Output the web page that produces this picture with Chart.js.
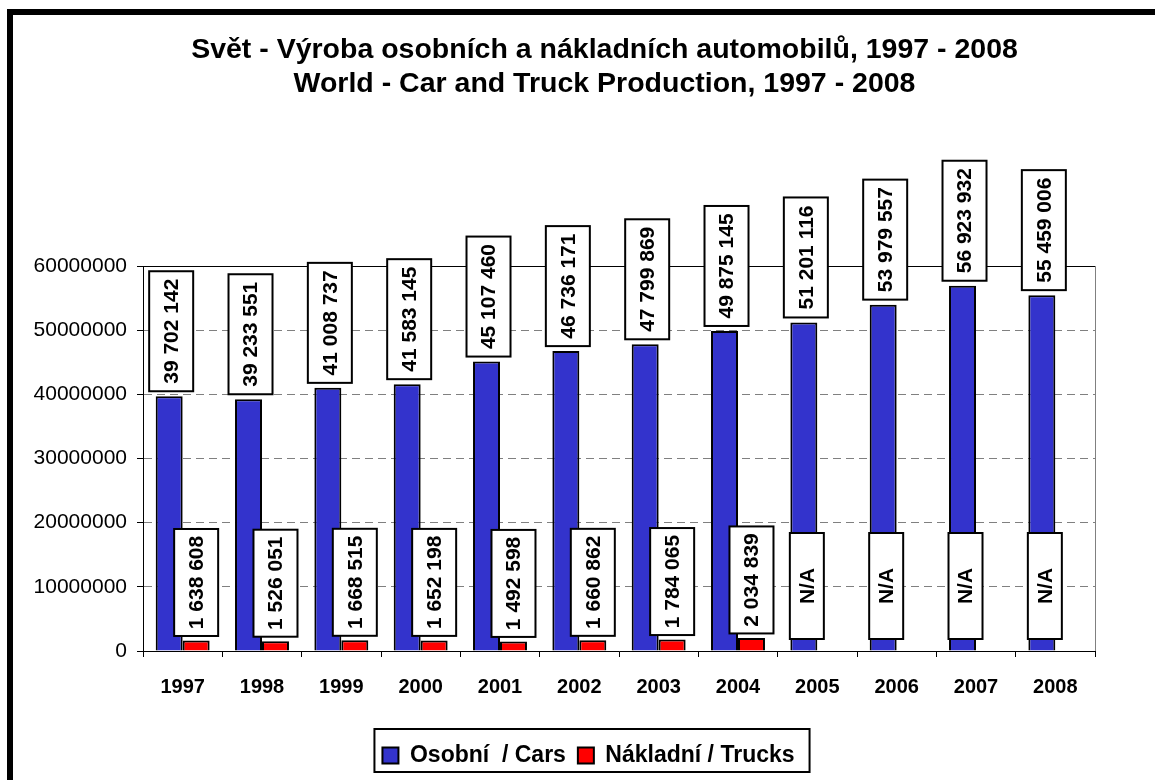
<!DOCTYPE html>
<html>
<head>
<meta charset="utf-8">
<title>Svět - Výroba osobních a nákladních automobilů</title>
<script src="https://cdn.jsdelivr.net/npm/chart.js@4.4.0/dist/chart.umd.min.js"></script>
<style>
  html, body { margin: 0; padding: 0; background: #fff; overflow: hidden; }
  #wrap { width: 1155px; height: 780px; }
</style>
</head>
<body>
<div id="wrap"><canvas id="chart" width="1155" height="780"></canvas></div>
<script>
// production by year
const years = ['1997', '1998', '1999', '2000', '2001', '2002', '2003', '2004', '2005', '2006', '2007', '2008'];
const carsProduced = [39702142, 39233551, 41008737, 41583145, 45107460, 46736171, 47799869, 49875145, 51201116, 53979557, 56923932, 55459006];
const trucksProduced = [1638608, 1526051, 1668515, 1652198, 1492598, 1660862, 1784065, 2034839, null, null, null, null];
const yTicks = [0, 10000000, 20000000, 30000000, 40000000, 50000000, 60000000];

const titleLines = ['Svět - Výroba osobních a nákladních automobilů, 1997 - 2008', 'World - Car and Truck Production, 1997 - 2008'];
const seriesNames = ['Osobní  / Cars', 'Nákladní / Trucks'];

const FONT = '"Liberation Sans", Arial, sans-serif';
Chart.defaults.font.family = FONT;
Chart.defaults.color = '#000';

// 39702142 -> "39 702 142"
function spaced(v) {
  return String(v).replace(/\B(?=(\d{3})+(?!\d))/g, ' ');
}

// white box with a black frame and text running bottom-to-top
function drawTag(ctx, cx, bottom, w, h, text) {
  ctx.save();
  ctx.fillStyle = '#fff';
  ctx.strokeStyle = '#000';
  ctx.lineWidth = 2;
  ctx.fillRect(cx - w / 2, bottom - h, w, h);
  ctx.strokeRect(cx - w / 2, bottom - h, w, h);
  ctx.translate(cx, bottom - h / 2);
  ctx.rotate(-Math.PI / 2);
  ctx.fillStyle = '#000';
  ctx.font = 'bold 21px ' + FONT;
  ctx.textAlign = 'center';
  ctx.textBaseline = 'middle';
  ctx.fillText(text, 0, 1);
  ctx.restore();
}

const framePlugin = {
  id: 'frame',
  beforeDraw(chart) {
    const ctx = chart.ctx;
    ctx.save();
    ctx.fillStyle = '#fff';
    ctx.fillRect(0, 0, chart.width, chart.height);
    ctx.strokeStyle = '#000';
    ctx.lineWidth = 6;
    ctx.strokeRect(10, 12, chart.width + 40, chart.height + 40);
    ctx.restore();
  },
  afterLayout(chart) {
    // title and legend sit right of the canvas centre
    const tb = chart.titleBlock;
    tb.left += 57;
    tb.right += 57;
    const lg = chart.legend;
    lg.left += 41;
    lg.right += 41;
  },
  beforeDatasetsDraw(chart) {
    const {ctx, chartArea: a} = chart;
    ctx.save();
    ctx.lineWidth = 1;
    ctx.strokeStyle = '#808080';
    ctx.beginPath();
    ctx.moveTo(a.right + 0.5, a.top);
    ctx.lineTo(a.right + 0.5, a.bottom);
    ctx.stroke();
    ctx.strokeStyle = '#000';
    ctx.beginPath();
    ctx.moveTo(a.left, a.top + 0.5);
    ctx.lineTo(a.right, a.top + 0.5);
    ctx.stroke();
    ctx.restore();
  },
  afterDatasetsDraw(chart) {
    const ctx = chart.ctx;
    const yScale = chart.scales.y;
    const cars = chart.getDatasetMeta(0).data;
    const trucks = chart.getDatasetMeta(1).data;
    cars.forEach((bar, i) => {
      drawTag(ctx, bar.x + 2, bar.y - 5, 44, 120, spaced(carsProduced[i]));
    });
    trucks.forEach((bar, i) => {
      if (trucksProduced[i] === null) {
        drawTag(ctx, cars[i].x + 3, yScale.getPixelForValue(0) - 12, 34, 106, 'N/A');
      } else {
        drawTag(ctx, bar.x, bar.y - 4.5, 44, 107, spaced(trucksProduced[i]));
      }
    });
  },
  afterDraw(chart) {
    const hb = chart.legend.legendHitBoxes;
    if (!hb || !hb.length) return;
    const last = hb[hb.length - 1];
    const ctx = chart.ctx;
    const left = hb[0].left - 8;
    const right = last.left + last.width + 15;
    const top = hb[0].top - 15;
    ctx.save();
    ctx.strokeStyle = '#000';
    ctx.lineWidth = 2;
    ctx.strokeRect(left, top, right - left, 43);
    ctx.restore();
  }
};

new Chart(document.getElementById('chart'), {
  type: 'bar',
  data: {
    labels: years,
    datasets: [
      {
        label: seriesNames[0],
        data: carsProduced,
        backgroundColor: '#3333CC',
        borderColor: '#000',
        borderWidth: 2,
        categoryPercentage: 0.68,
        barPercentage: 1.0
      },
      {
        label: seriesNames[1],
        data: trucksProduced,
        backgroundColor: '#FF0000',
        borderColor: '#000',
        borderWidth: 2,
        categoryPercentage: 0.68,
        barPercentage: 1.0
      }
    ]
  },
  options: {
    responsive: false,
    animation: false,
    layout: { padding: { top: 14, right: 60, bottom: 3, left: 0 } },
    scales: {
      x: {
        grid: { display: true, drawOnChartArea: false, drawTicks: true, tickLength: 6, tickColor: '#000', offset: true },
        border: { display: true, color: '#000', width: 1 },
        ticks: { font: { size: 20, weight: 'bold' }, padding: 18, maxRotation: 0 },
        afterFit(scale) { scale.height = 81; }
      },
      y: {
        min: yTicks[0],
        max: yTicks[yTicks.length - 1],
        grid: { color: '#808080', lineWidth: 1, tickLength: 6, tickColor: '#000', tickBorderDash: [] },
        border: { display: true, color: '#000', width: 1, dash: [8, 5] },
        ticks: {
          stepSize: yTicks[1] - yTicks[0],
          font: { size: 21 },
          padding: 10,
          callback: v => String(v)
        },
        afterFit(scale) { scale.width = 143; }
      }
    },
    plugins: {
      title: {
        display: true,
        text: titleLines,
        font: { size: 28.5, weight: 'bold', lineHeight: 1.193 },
        color: '#000',
        padding: { top: 19, bottom: 165 }
      },
      legend: {
        position: 'bottom',
        labels: {
          font: { size: 23, weight: 'bold' },
          boxWidth: 16,
          boxHeight: 16,
          padding: 12,
          color: '#000'
        }
      },
      tooltip: { enabled: false }
    }
  },
  plugins: [framePlugin]
});
</script>
</body>
</html>
